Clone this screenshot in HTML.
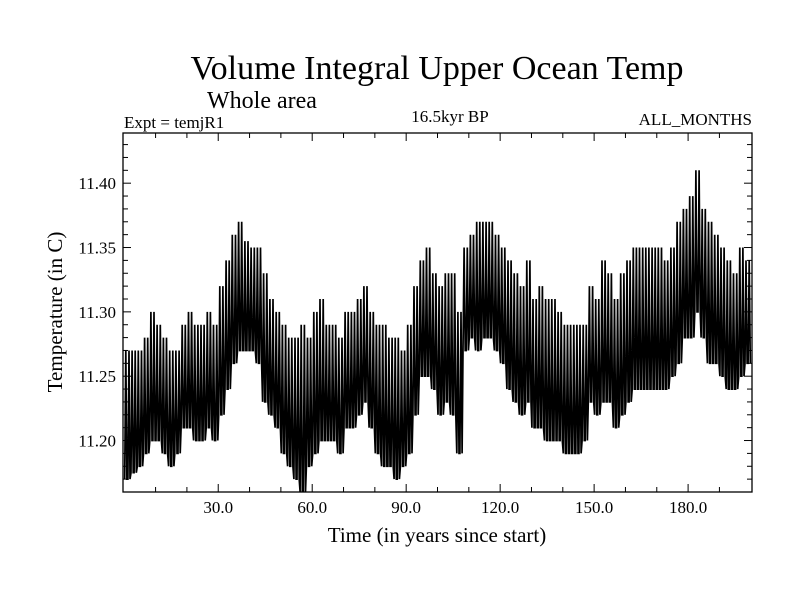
<!DOCTYPE html>
<html><head><meta charset="utf-8"><style>
body{margin:0;background:#fff}
svg{display:block;font-family:"Liberation Serif",serif}
</style></head><body>
<svg id="chart" width="800" height="600">
<text x="437" y="79" font-size="34" text-anchor="middle">Volume Integral Upper Ocean Temp</text>
<text x="207" y="108" font-size="24">Whole area</text>
<text x="124" y="128" font-size="17">Expt = temjR1</text>
<text x="450" y="122" font-size="17" text-anchor="middle">16.5kyr BP</text>
<text x="752" y="125" font-size="17" text-anchor="end">ALL_MONTHS</text>
<text x="437" y="542" font-size="21" text-anchor="middle">Time (in years since start)</text>
<text transform="translate(62,312) rotate(-90)" font-size="21" text-anchor="middle">Temperature (in C)</text>
<defs><clipPath id="pc"><rect x="123" y="133" width="629" height="359"/></clipPath></defs>
<g id="series" clip-path="url(#pc)"></g>
<g id="axes"></g>
<rect x="123" y="133" width="629" height="359" fill="none" stroke="#000" stroke-width="1.3"/>
</svg>
<script>
const binYears = 2;
const highs = [11.27,11.27,11.27,11.28,11.30,11.29,11.28,11.27,11.27,11.29,11.30,11.29,11.29,11.30,11.29,11.32,11.34,11.36,11.37,11.355,11.35,11.35,11.33,11.31,11.30,11.29,11.28,11.28,11.29,11.28,11.30,11.31,11.29,11.29,11.28,11.30,11.30,11.31,11.32,11.30,11.29,11.29,11.28,11.28,11.27,11.29,11.32,11.34,11.35,11.33,11.32,11.33,11.33,11.30,11.35,11.36,11.37,11.37,11.37,11.36,11.35,11.34,11.33,11.32,11.34,11.31,11.32,11.31,11.31,11.30,11.29,11.29,11.29,11.29,11.32,11.31,11.34,11.33,11.31,11.33,11.34,11.35,11.35,11.35,11.35,11.35,11.34,11.35,11.37,11.38,11.39,11.41,11.38,11.37,11.36,11.35,11.34,11.33,11.35,11.34];
const lows = [11.17,11.175,11.18,11.19,11.20,11.20,11.19,11.18,11.19,11.21,11.21,11.20,11.20,11.21,11.20,11.22,11.24,11.26,11.27,11.27,11.27,11.26,11.23,11.22,11.21,11.19,11.18,11.17,11.16,11.18,11.19,11.20,11.20,11.20,11.19,11.21,11.21,11.22,11.23,11.21,11.19,11.18,11.18,11.17,11.18,11.19,11.22,11.25,11.25,11.24,11.22,11.23,11.22,11.19,11.27,11.28,11.27,11.28,11.28,11.27,11.26,11.24,11.23,11.22,11.23,11.21,11.21,11.20,11.20,11.20,11.19,11.19,11.19,11.20,11.23,11.22,11.23,11.23,11.21,11.22,11.23,11.24,11.24,11.24,11.24,11.24,11.24,11.25,11.26,11.28,11.28,11.30,11.28,11.26,11.26,11.25,11.24,11.24,11.25,11.26];
const xTickLabels = ["30.0","60.0","90.0","120.0","150.0","180.0"];
const yTickLabels = ["11.20","11.25","11.30","11.35","11.40"];

const X0=123,X1=752,Y0=133,Y1=492, xMin=-0.4,xMax=200.4, yMin=11.160,yMax=11.439;
const xs=v=>X0+(v-xMin)/(xMax-xMin)*(X1-X0);
const ys=v=>Y1-(v-yMin)/(yMax-yMin)*(Y1-Y0);
const NS="http://www.w3.org/2000/svg";
const series=document.getElementById('series');
let d="";
for(let b=0;b<highs.length;b++){
  for(let k=0;k<binYears;k++){
    const yr=b*binYears+k;
    const p1=[xs(yr+0.15),ys(lows[b])],p2=[xs(yr+0.5),ys(highs[b])],p3=[xs(yr+0.85),ys(lows[b])];
    d+=(d?"L":"M")+p1[0].toFixed(1)+","+p1[1].toFixed(1)+"L"+p2[0].toFixed(1)+","+p2[1].toFixed(1)+"L"+p3[0].toFixed(1)+","+p3[1].toFixed(1);
  }
}
const path=document.createElementNS(NS,'path');
path.setAttribute('d',d);path.setAttribute('fill','none');path.setAttribute('stroke','#000');path.setAttribute('stroke-width','1.7');


series.appendChild(path);
const axes=document.getElementById('axes');
function line(x1,y1,x2,y2,w){const l=document.createElementNS(NS,'line');l.setAttribute('x1',x1);l.setAttribute('y1',y1);l.setAttribute('x2',x2);l.setAttribute('y2',y2);l.setAttribute('stroke','#000');l.setAttribute('stroke-width',w||1);


axes.appendChild(l);}
function text(x,y,s,anchor,name){const t=document.createElementNS(NS,'text');t.setAttribute('x',x);t.setAttribute('y',y);t.setAttribute('font-size','17');t.setAttribute('text-anchor',anchor);t.textContent=s;


axes.appendChild(t);}
for(let v=10;v<200;v+=10){const x=xs(v);const major=v%30===0;line(x,Y1,x,Y1-(major?8:5));line(x,Y0,x,Y0+(major?8:5));}
xTickLabels.forEach(s=>text(xs(parseFloat(s)),513,s,'middle','x-tick-label'));
for(let i=17;i<=43;i++){const v=i/100;const y=ys(11+v);const major=i%5===0;line(X0,y,X0+(major?8:5),y);line(X1,y,X1-(major?8:5),y);}
yTickLabels.forEach(s=>text(116,ys(parseFloat(s))+6,s,'end','y-tick-label'));
</script>
</body></html>
